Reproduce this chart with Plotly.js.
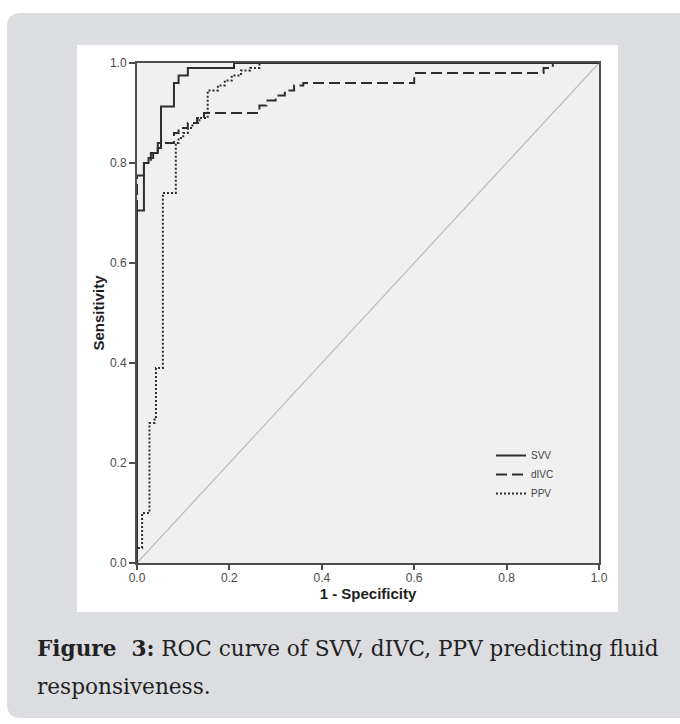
<!DOCTYPE html>
<html>
<head>
<meta charset="utf-8">
<script src="https://cdn.plot.ly/plotly-3.0.1.min.js"></script>
<style>
html,body{margin:0;padding:0;background:#ffffff;}
#chart{width:680px;height:724px;}
</style>
</head>
<body>
<div id="chart"></div>
<script>
// ROC curve corner points (1 - specificity, sensitivity)
var svvFpr = [0, 0, 0.015, 0.015, 0.025, 0.025, 0.035, 0.035, 0.045, 0.045, 0.052, 0.052, 0.08, 0.08, 0.09, 0.09, 0.11, 0.11, 0.21, 0.21, 1];
var svvTpr = [0, 0.705, 0.705, 0.80, 0.80, 0.81, 0.81, 0.82, 0.82, 0.83, 0.83, 0.913, 0.913, 0.96, 0.96, 0.975, 0.975, 0.99, 0.99, 1, 1];

var divcFpr = [0, 0, 0.015, 0.015, 0.03, 0.03, 0.045, 0.045, 0.08, 0.08, 0.09, 0.09, 0.11, 0.11, 0.13, 0.13, 0.145, 0.145, 0.265, 0.265, 0.28, 0.28, 0.30, 0.30, 0.32, 0.32, 0.34, 0.34, 0.36, 0.36, 0.60, 0.60, 0.88, 0.88, 0.90, 0.90, 1];
var divcTpr = [0, 0.775, 0.775, 0.80, 0.80, 0.82, 0.82, 0.84, 0.84, 0.86, 0.86, 0.87, 0.87, 0.88, 0.88, 0.89, 0.89, 0.90, 0.90, 0.915, 0.915, 0.925, 0.925, 0.935, 0.935, 0.945, 0.945, 0.955, 0.955, 0.96, 0.96, 0.98, 0.98, 0.99, 0.99, 1, 1];

var ppvFpr = [0, 0, 0.011, 0.011, 0.027, 0.027, 0.038, 0.038, 0.041, 0.041, 0.056, 0.056, 0.084, 0.084, 0.09, 0.09, 0.10, 0.10, 0.11, 0.11, 0.12, 0.12, 0.135, 0.135, 0.153, 0.153, 0.175, 0.175, 0.19, 0.19, 0.205, 0.205, 0.225, 0.225, 0.245, 0.245, 0.265, 0.265, 1];
var ppvTpr = [0, 0.03, 0.03, 0.10, 0.10, 0.28, 0.28, 0.29, 0.29, 0.39, 0.39, 0.74, 0.74, 0.84, 0.84, 0.85, 0.85, 0.86, 0.86, 0.87, 0.87, 0.88, 0.88, 0.89, 0.89, 0.945, 0.945, 0.955, 0.955, 0.965, 0.965, 0.975, 0.975, 0.985, 0.985, 0.99, 0.99, 1, 1];

var refX = [0, 1];
var refY = [0, 1];

var seriesNames = ["SVV", "dIVC", "PPV"];
var tickVals = [0, 0.2, 0.4, 0.6, 0.8, 1.0];
var tickText = ["0.0", "0.2", "0.4", "0.6", "0.8", "1.0"];

// page geometry (px) -> paper coords
var W = 680, H = 724, L = 137, R = 81, T = 63, B = 161;
var PW = W - L - R, PH = H - T - B;
function px(x){ return (x - L) / PW; }
function py(y){ return (H - B - y) / PH; }
function roundRect(x0, y0, x1, y1, r){
  var rx = r / PW, ry = r / PH;
  var a = px(x0), b = px(x1), top = py(y0), bot = py(y1);
  return 'M' + (a + rx) + ',' + top +
    ' L' + (b - rx) + ',' + top + ' Q' + b + ',' + top + ' ' + b + ',' + (top - ry) +
    ' L' + b + ',' + (bot + ry) + ' Q' + b + ',' + bot + ' ' + (b - rx) + ',' + bot +
    ' L' + (a + rx) + ',' + bot + ' Q' + a + ',' + bot + ' ' + a + ',' + (bot + ry) +
    ' L' + a + ',' + (top - ry) + ' Q' + a + ',' + top + ' ' + (a + rx) + ',' + top + ' Z';
}

var lineCol = '#2e2e2e';
var traces = [
  {x: refX, y: refY, mode: 'lines', showlegend: false, hoverinfo: 'skip',
   line: {color: '#bdbdbd', width: 1.3}},
  {x: svvFpr, y: svvTpr, mode: 'lines', name: seriesNames[0],
   line: {color: lineCol, width: 2}},
  {x: divcFpr, y: divcTpr, mode: 'lines', name: seriesNames[1],
   line: {color: lineCol, width: 2, dash: '11px,5px'}},
  {x: ppvFpr, y: ppvTpr, mode: 'lines', name: seriesNames[2],
   line: {color: lineCol, width: 2, dash: '2px,2px'}}
];

var axisCommon = {
  range: [0, 1], fixedrange: true, showgrid: false, zeroline: false,
  showline: true, mirror: true, linecolor: '#4d4d4d', linewidth: 2,
  ticks: 'outside', ticklen: 6, tickwidth: 2, tickcolor: '#4d4d4d',
  tickvals: tickVals, ticktext: tickText,
  tickfont: {family: 'Liberation Sans, Arial, sans-serif', size: 12, color: '#4a4a4a'}
};

var layout = {
  width: W, height: H,
  margin: {l: L, r: R, t: T, b: B, pad: 0},
  paper_bgcolor: '#ffffff',
  plot_bgcolor: 'rgba(0,0,0,0)',
  font: {family: 'Liberation Sans, Arial, sans-serif'},
  xaxis: Object.assign({}, axisCommon, {
    ticklen: 5, ticklabelstandoff: -2,
    title: {text: '1 - Specificity', standoff: 0,
      font: {family: 'Liberation Sans, Arial, sans-serif', size: 15, color: '#1e1e1e', weight: 'bold'}}
  }),
  yaxis: Object.assign({}, axisCommon, {
    title: {text: 'Sensitivity', standoff: 2,
      font: {family: 'Liberation Sans, Arial, sans-serif', size: 15, color: '#1e1e1e', weight: 'bold'}}
  }),
  showlegend: true,
  legend: {
    x: px(491), y: py(441), xanchor: 'left', yanchor: 'top',
    bgcolor: 'rgba(0,0,0,0)', borderwidth: 0,
    font: {family: 'Liberation Sans, Arial, sans-serif', size: 10, color: '#444444'},
    itemwidth: 30, tracegroupgap: 0
  },
  shapes: [
    {type: 'path', xref: 'paper', yref: 'paper', layer: 'below',
     path: roundRect(7, 13, 700, 718, 14), fillcolor: '#dcdde0', line: {width: 0}},
    {type: 'rect', xref: 'paper', yref: 'paper', layer: 'below',
     x0: px(77), x1: px(618), y0: py(612), y1: py(45), fillcolor: '#ffffff', line: {width: 0}},
    {type: 'rect', xref: 'paper', yref: 'paper', layer: 'below',
     x0: 0, x1: 1, y0: 0, y1: 1, fillcolor: '#f0f0f0', line: {width: 0}}
  ],
  annotations: [
    {xref: 'paper', yref: 'paper', x: px(35), y: py(648), xanchor: 'left', yanchor: 'middle',
     showarrow: false, align: 'left',
     text: '<b>Figure  3:</b> ROC curve of SVV, dIVC, PPV predicting fluid',
     font: {family: 'DejaVu Serif, Liberation Serif, serif', size: 21.6, color: '#222222'}},
    {xref: 'paper', yref: 'paper', x: px(35), y: py(686), xanchor: 'left', yanchor: 'middle',
     showarrow: false, align: 'left',
     text: 'responsiveness.',
     font: {family: 'DejaVu Serif, Liberation Serif, serif', size: 21.6, color: '#222222'}}
  ]
};

Plotly.newPlot('chart', traces, layout, {displayModeBar: false, staticPlot: true});
</script>
</body>
</html>
